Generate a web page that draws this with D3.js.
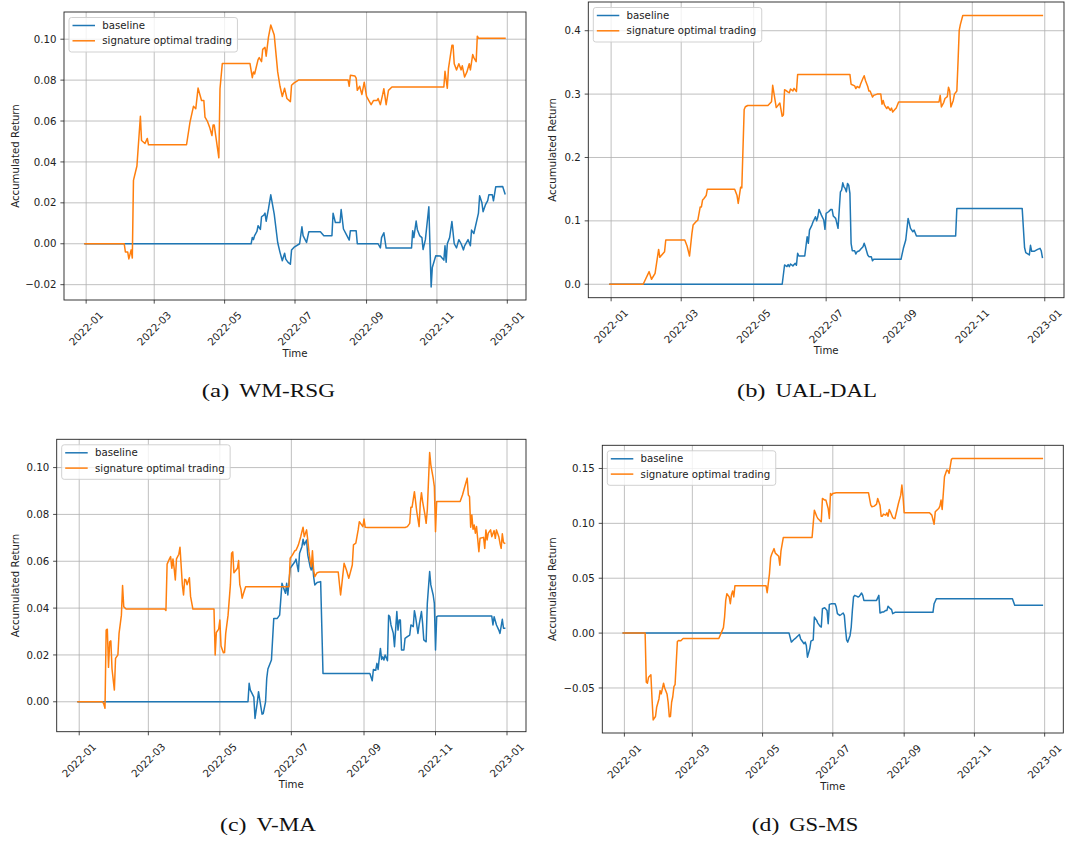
<!DOCTYPE html>
<html><head><meta charset="utf-8">
<script src="https://cdn.jsdelivr.net/npm/d3@7"></script>
<style>
body{margin:0;background:#fff;}
svg{display:block;}
</style></head><body>
<svg id="chart" width="1065" height="842"></svg>
<script>
// ---------- data ----------
const xTickLabels = ["2022-01","2022-03","2022-05","2022-07","2022-09","2022-11","2023-01"];
const seriesNames = ["baseline","signature optimal trading"];
const seriesColors = ["#1f77b4","#ff7f0e"];
const captionTags = ["(a)","(b)","(c)","(d)"];
const captionNames = ["WM-RSG","UAL-DAL","V-MA","GS-MS"];
const aYTicks = [-0.02,0,0.02,0.04,0.06,0.08,0.10];
const bYTicks = [0,0.1,0.2,0.3,0.4];
const cYTicks = [0,0.02,0.04,0.06,0.08,0.10];
const dYTicks = [-0.05,0,0.05,0.10,0.15];

const aBaseline = [["2021-12-31",0],["2022-05-24",0],["2022-05-25",0.0031],["2022-05-26",0.002],["2022-05-27",0.004],["2022-05-29",0.006],["2022-05-30",0.0088],["2022-06-01",0.007],["2022-06-02",0.0132],["2022-06-04",0.014],["2022-06-05",0.015],["2022-06-06",0.011],["2022-06-08",0.017],["2022-06-10",0.0239],["2022-06-13",0.0145],["2022-06-16",0.0006],["2022-06-18",-0.0042],["2022-06-20",-0.0083],["2022-06-22",-0.0046],["2022-06-23",-0.0075],["2022-06-25",-0.0091],["2022-06-27",-0.010],["2022-06-28",-0.0031],["2022-06-30",-0.0018],["2022-07-05",0],["2022-07-07",0.0083],["2022-07-08",0.004],["2022-07-11",0.0006],["2022-07-13",0.0059],["2022-07-23",0.0059],["2022-07-26",0.0039],["2022-08-02",0.0039],["2022-08-03",0.0149],["2022-08-05",0.0104],["2022-08-09",0.0104],["2022-08-10",0.0167],["2022-08-12",0.0072],["2022-08-15",0.004],["2022-08-17",0.0018],["2022-08-18",0.0064],["2022-08-23",0.0064],["2022-08-24",0],["2022-09-11",0],["2022-09-13",-0.002],["2022-09-14",0.003],["2022-09-16",0.0054],["2022-09-18",-0.0021],["2022-10-10",-0.0021],["2022-10-11",0.0064],["2022-10-12",0.003],["2022-10-14",0.0111],["2022-10-15",0.007],["2022-10-17",0.004],["2022-10-19",0.003],["2022-10-20",-0.0028],["2022-10-22",0.002],["2022-10-25",0.0181],["2022-10-27",-0.0211],["2022-10-28",-0.0116],["2022-10-31",-0.0059],["2022-11-04",-0.006],["2022-11-07",-0.008],["2022-11-08",-0.001],["2022-11-09",-0.009],["2022-11-10",0],["2022-11-12",0.003],["2022-11-14",0.0109],["2022-11-16",0],["2022-11-18",-0.002],["2022-11-20",0.002],["2022-11-22",0],["2022-11-24",-0.003],["2022-11-25",-0.001],["2022-11-28",0.002],["2022-11-30",-0.001],["2022-12-01",0.0067],["2022-12-03",0.005],["2022-12-07",0.015],["2022-12-08",0.0235],["2022-12-10",0.020],["2022-12-11",0.0157],["2022-12-13",0.019],["2022-12-15",0.0211],["2022-12-16",0.0239],["2022-12-19",0.0239],["2022-12-20",0.021],["2022-12-22",0.0279],["2022-12-28",0.028],["2022-12-30",0.0244]];
const aSignature = [["2021-12-31",0],["2022-02-03",0],["2022-02-04",-0.004],["2022-02-06",-0.004],["2022-02-07",-0.0074],["2022-02-09",-0.003],["2022-02-10",-0.007],["2022-02-11",0.031],["2022-02-14",0.038],["2022-02-17",0.0623],["2022-02-18",0.0505],["2022-02-21",0.049],["2022-02-23",0.0515],["2022-02-24",0.0484],["2022-03-29",0.0484],["2022-04-01",0.0595],["2022-04-04",0.0672],["2022-04-06",0.066],["2022-04-08",0.0761],["2022-04-11",0.070],["2022-04-13",0.070],["2022-04-14",0.0619],["2022-04-16",0.060],["2022-04-18",0.057],["2022-04-20",0.0529],["2022-04-21",0.058],["2022-04-22",0.058],["2022-04-25",0.046],["2022-04-26",0.042],["2022-04-27",0.0758],["2022-04-29",0.0881],["2022-05-23",0.0881],["2022-05-25",0.0812],["2022-05-26",0.084],["2022-05-27",0.083],["2022-05-30",0.090],["2022-05-31",0.091],["2022-06-02",0.089],["2022-06-03",0.095],["2022-06-05",0.096],["2022-06-06",0.0917],["2022-06-08",0.101],["2022-06-10",0.1069],["2022-06-13",0.102],["2022-06-16",0.084],["2022-06-18",0.077],["2022-06-20",0.072],["2022-06-22",0.076],["2022-06-24",0.071],["2022-06-27",0.0695],["2022-06-28",0.0775],["2022-06-30",0.0785],["2022-07-04",0.080],["2022-08-16",0.080],["2022-08-17",0.077],["2022-08-18",0.0824],["2022-08-22",0.082],["2022-08-23",0.081],["2022-08-24",0.075],["2022-08-26",0.077],["2022-08-28",0.073],["2022-08-30",0.079],["2022-09-01",0.072],["2022-09-03",0.070],["2022-09-05",0.068],["2022-09-07",0.070],["2022-09-10",0.070],["2022-09-11",0.071],["2022-09-13",0.068],["2022-09-15",0.073],["2022-09-16",0.0758],["2022-09-18",0.068],["2022-09-20",0.075],["2022-09-23",0.0766],["2022-11-07",0.0766],["2022-11-08",0.0843],["2022-11-10",0.076],["2022-11-11",0.0856],["2022-11-14",0.097],["2022-11-15",0.097],["2022-11-16",0.088],["2022-11-18",0.085],["2022-11-20",0.088],["2022-11-22",0.085],["2022-11-23",0.087],["2022-11-25",0.0815],["2022-11-27",0.084],["2022-11-29",0.088],["2022-11-30",0.085],["2022-12-02",0.0925],["2022-12-03",0.091],["2022-12-05",0.089],["2022-12-06",0.1015],["2022-12-07",0.1005],["2022-12-30",0.1005]];

const bBaseline = [["2021-12-31",0],["2022-05-25",0],["2022-05-27",0.0304],["2022-05-29",0.028],["2022-05-30",0.031],["2022-05-31",0.0278],["2022-06-01",0.032],["2022-06-03",0.029],["2022-06-05",0.033],["2022-06-06",0.030],["2022-06-07",0.0488],["2022-06-08",0.0446],["2022-06-13",0.0446],["2022-06-15",0.075],["2022-06-16",0.0646],["2022-06-17",0.0855],["2022-06-19",0.0934],["2022-06-20",0.0986],["2022-06-22",0.1065],["2022-06-23",0.1002],["2022-06-24",0.1065],["2022-06-25",0.1181],["2022-06-27",0.1091],["2022-06-29",0.1013],["2022-06-30",0.0866],["2022-07-01",0.1118],["2022-07-03",0.1144],["2022-07-05",0.1181],["2022-07-06",0.1181],["2022-07-07",0.1076],["2022-07-09",0.1039],["2022-07-10",0.096],["2022-07-11",0.0882],["2022-07-13",0.1458],["2022-07-14",0.1485],["2022-07-15",0.160],["2022-07-16",0.1537],["2022-07-17",0.1512],["2022-07-18",0.1458],["2022-07-19",0.159],["2022-07-20",0.1564],["2022-07-21",0.1433],["2022-07-22",0.0646],["2022-07-23",0.0529],["2022-07-25",0.0529],["2022-07-26",0.0477],["2022-07-27",0.0513],["2022-07-29",0.0529],["2022-07-30",0.0551],["2022-08-01",0.0592],["2022-08-02",0.0646],["2022-08-03",0.0592],["2022-08-05",0.0461],["2022-08-06",0.0435],["2022-08-08",0.0435],["2022-08-09",0.0372],["2022-08-10",0.0394],["2022-09-02",0.0394],["2022-09-04",0.0567],["2022-09-06",0.0698],["2022-09-08",0.1039],["2022-09-09",0.096],["2022-09-10",0.0882],["2022-09-12",0.0829],["2022-09-13",0.0855],["2022-09-15",0.0761],["2022-10-18",0.0761],["2022-10-19",0.1197],["2022-12-13",0.1197],["2022-12-15",0.058],["2022-12-16",0.050],["2022-12-18",0.0477],["2022-12-19",0.0461],["2022-12-20",0.0614],["2022-12-21",0.052],["2022-12-23",0.052],["2022-12-26",0.0551],["2022-12-28",0.0567],["2022-12-29",0.0529],["2022-12-30",0.0425]];
const bSignature = [["2021-12-31",0],["2022-01-28",0],["2022-02-02",0.0199],["2022-02-04",0.0079],["2022-02-07",0.0173],["2022-02-10",0.055],["2022-02-11",0.0425],["2022-02-13",0.047],["2022-02-15",0.0514],["2022-02-16",0.0698],["2022-03-04",0.0698],["2022-03-06",0.060],["2022-03-08",0.0446],["2022-03-10",0.080],["2022-03-11",0.0934],["2022-03-14",0.0997],["2022-03-15",0.101],["2022-03-17",0.122],["2022-03-18",0.122],["2022-03-19",0.133],["2022-03-20",0.135],["2022-03-22",0.140],["2022-03-23",0.150],["2022-04-15",0.150],["2022-04-17",0.140],["2022-04-18",0.1276],["2022-04-20",0.153],["2022-04-21",0.152],["2022-04-23",0.2756],["2022-04-24",0.280],["2022-04-26",0.282],["2022-05-13",0.282],["2022-05-16",0.288],["2022-05-17",0.3139],["2022-05-20",0.2787],["2022-05-21",0.281],["2022-05-23",0.286],["2022-05-25",0.265],["2022-05-26",0.267],["2022-05-27",0.307],["2022-05-28",0.306],["2022-05-30",0.303],["2022-05-31",0.302],["2022-06-01",0.308],["2022-06-03",0.305],["2022-06-04",0.309],["2022-06-06",0.304],["2022-06-07",0.331],["2022-07-21",0.331],["2022-07-22",0.3155],["2022-07-25",0.313],["2022-07-26",0.3087],["2022-07-27",0.312],["2022-07-29",0.310],["2022-07-30",0.316],["2022-08-01",0.325],["2022-08-02",0.329],["2022-08-03",0.322],["2022-08-05",0.312],["2022-08-06",0.305],["2022-08-07",0.305],["2022-08-09",0.2954],["2022-08-10",0.298],["2022-08-13",0.300],["2022-08-16",0.300],["2022-08-17",0.284],["2022-08-18",0.290],["2022-08-19",0.283],["2022-08-21",0.2772],["2022-08-22",0.280],["2022-08-24",0.2745],["2022-08-25",0.278],["2022-08-26",0.2718],["2022-08-28",0.276],["2022-08-29",0.278],["2022-08-31",0.2876],["2022-10-04",0.2876],["2022-10-05",0.298],["2022-10-06",0.2797],["2022-10-08",0.287],["2022-10-09",0.293],["2022-10-11",0.296],["2022-10-12",0.311],["2022-10-13",0.305],["2022-10-14",0.2797],["2022-10-16",0.290],["2022-10-17",0.300],["2022-10-19",0.305],["2022-10-20",0.3506],["2022-10-21",0.4005],["2022-10-22",0.410],["2022-10-24",0.4241],["2022-12-30",0.4241]];

const cBaseline = [["2021-12-31",0],["2022-05-25",0],["2022-05-26",0.0079],["2022-05-27",0.005],["2022-05-28",0.004],["2022-05-30",0.002],["2022-05-31",-0.0071],["2022-06-02",0],["2022-06-03",0.0043],["2022-06-04",0.001],["2022-06-06",-0.0053],["2022-06-07",-0.005],["2022-06-09",0],["2022-06-10",0.010],["2022-06-11",0.014],["2022-06-14",0.0178],["2022-06-16",0.0356],["2022-06-19",0.0356],["2022-06-21",0.037],["2022-06-23",0.0506],["2022-06-24",0.0491],["2022-06-26",0.0463],["2022-06-27",0.0506],["2022-06-28",0.0456],["2022-06-29",0.0513],["2022-06-30",0.057],["2022-07-02",0.0584],["2022-07-04",0.0598],["2022-07-05",0.0609],["2022-07-07",0.0556],["2022-07-08",0.0634],["2022-07-10",0.0662],["2022-07-11",0.0694],["2022-07-12",0.067],["2022-07-14",0.0691],["2022-07-15",0.0627],["2022-07-17",0.0577],["2022-07-18",0.0563],["2022-07-19",0.0598],["2022-07-20",0.0534],["2022-07-21",0.0499],["2022-07-23",0.0509],["2022-07-26",0.0513],["2022-07-28",0.0121],["2022-09-06",0.0121],["2022-09-08",0.009],["2022-09-09",0.0138],["2022-09-11",0.0135],["2022-09-12",0.0164],["2022-09-13",0.0138],["2022-09-14",0.0185],["2022-09-15",0.0228],["2022-09-16",0.0181],["2022-09-17",0.0192],["2022-09-18",0.0178],["2022-09-19",0.020],["2022-09-21",0.0175],["2022-09-22",0.037],["2022-09-23",0.0363],["2022-09-24",0.0328],["2022-09-26",0.0292],["2022-09-27",0.0235],["2022-09-29",0.0385],["2022-09-30",0.0306],["2022-10-01",0.0349],["2022-10-02",0.0349],["2022-10-03",0.0221],["2022-10-05",0.0221],["2022-10-06",0.0271],["2022-10-08",0.0278],["2022-10-10",0.0285],["2022-10-11",0.0328],["2022-10-13",0.0321],["2022-10-14",0.0389],["2022-10-15",0.0363],["2022-10-17",0.0292],["2022-10-18",0.0328],["2022-10-20",0.0385],["2022-10-21",0.0335],["2022-10-22",0.0264],["2022-10-24",0.0256],["2022-10-25",0.042],["2022-10-27",0.0556],["2022-10-28",0.0499],["2022-10-30",0.0456],["2022-10-31",0.042],["2022-11-01",0.0221],["2022-11-02",0.0363],["2022-11-03",0.0366],["2022-12-19",0.0366],["2022-12-20",0.0328],["2022-12-21",0.0363],["2022-12-23",0.0328],["2022-12-25",0.0306],["2022-12-26",0.0292],["2022-12-28",0.0352],["2022-12-29",0.0314],["2022-12-30",0.0314]];
const cSignature = [["2021-12-31",0],["2022-01-21",0],["2022-01-22",-0.001],["2022-01-23",-0.0028],["2022-01-24",0.0306],["2022-01-25",0.031],["2022-01-26",0.0147],["2022-01-27",0.0256],["2022-01-28",0.026],["2022-01-29",0.014],["2022-01-31",0.005],["2022-02-01",0.0185],["2022-02-03",0.020],["2022-02-04",0.0292],["2022-02-06",0.037],["2022-02-07",0.0496],["2022-02-08",0.0406],["2022-02-10",0.0396],["2022-03-15",0.0396],["2022-03-16",0.039],["2022-03-17",0.0588],["2022-03-19",0.061],["2022-03-20",0.062],["2022-03-21",0.057],["2022-03-22",0.061],["2022-03-23",0.057],["2022-03-24",0.052],["2022-03-25",0.061],["2022-03-27",0.063],["2022-03-28",0.066],["2022-03-30",0.0499],["2022-03-31",0.0456],["2022-04-01",0.0523],["2022-04-02",0.052],["2022-04-03",0.050],["2022-04-05",0.053],["2022-04-06",0.045],["2022-04-08",0.0396],["2022-04-26",0.0396],["2022-04-27",0.020],["2022-04-28",0.0296],["2022-04-30",0.031],["2022-05-01",0.0349],["2022-05-02",0.0238],["2022-05-04",0.0209],["2022-05-05",0.021],["2022-05-06",0.0292],["2022-05-08",0.037],["2022-05-10",0.050],["2022-05-11",0.0634],["2022-05-12",0.064],["2022-05-13",0.0551],["2022-05-16",0.057],["2022-05-17",0.0603],["2022-05-18",0.050],["2022-05-19",0.048],["2022-05-20",0.0442],["2022-05-21",0.046],["2022-05-23",0.0491],["2022-06-29",0.0491],["2022-06-30",0.0613],["2022-07-02",0.0627],["2022-07-04",0.0645],["2022-07-05",0.0647],["2022-07-07",0.067],["2022-07-09",0.0705],["2022-07-10",0.0726],["2022-07-11",0.0745],["2022-07-12",0.0705],["2022-07-14",0.0734],["2022-07-15",0.0691],["2022-07-16",0.0641],["2022-07-17",0.0603],["2022-07-18",0.0577],["2022-07-19",0.0645],["2022-07-20",0.0563],["2022-07-21",0.0534],["2022-07-23",0.0551],["2022-07-25",0.0554],["2022-08-10",0.0554],["2022-08-12",0.0456],["2022-08-13",0.0499],["2022-08-15",0.0591],["2022-08-17",0.0563],["2022-08-19",0.0527],["2022-08-22",0.0584],["2022-08-23",0.067],["2022-08-25",0.0677],["2022-08-27",0.0734],["2022-08-28",0.0769],["2022-08-29",0.0762],["2022-08-31",0.0748],["2022-09-01",0.078],["2022-09-02",0.0745],["2022-09-04",0.0744],["2022-10-06",0.0744],["2022-10-08",0.0748],["2022-10-10",0.0762],["2022-10-11",0.0831],["2022-10-12",0.0831],["2022-10-14",0.0897],["2022-10-15",0.0855],["2022-10-16",0.0812],["2022-10-18",0.0748],["2022-10-19",0.0848],["2022-10-20",0.0893],["2022-10-21",0.0855],["2022-10-23",0.0798],["2022-10-24",0.0762],["2022-10-25",0.0819],["2022-10-27",0.1064],["2022-10-28",0.1012],["2022-10-30",0.0955],["2022-10-31",0.0919],["2022-11-01",0.0726],["2022-11-02",0.0855],["2022-11-22",0.0855],["2022-11-24",0.0883],["2022-11-26",0.0919],["2022-11-28",0.0955],["2022-11-29",0.0883],["2022-11-30",0.0876],["2022-12-01",0.0745],["2022-12-02",0.0798],["2022-12-03",0.0737],["2022-12-04",0.0755],["2022-12-05",0.072],["2022-12-06",0.0748],["2022-12-08",0.0641],["2022-12-09",0.0698],["2022-12-12",0.0702],["2022-12-13",0.0655],["2022-12-14",0.0734],["2022-12-15",0.0691],["2022-12-16",0.072],["2022-12-18",0.0734],["2022-12-19",0.0705],["2022-12-21",0.0731],["2022-12-22",0.0698],["2022-12-23",0.0734],["2022-12-25",0.0705],["2022-12-26",0.0677],["2022-12-27",0.0655],["2022-12-28",0.0717],["2022-12-29",0.068],["2022-12-30",0.0677]];

const dBaseline = [["2021-12-31",0],["2022-05-24",0],["2022-05-26",-0.0082],["2022-05-28",-0.0061],["2022-05-30",-0.0043],["2022-06-02",-0.0012],["2022-06-03",-0.0052],["2022-06-04",-0.0067],["2022-06-06",-0.0097],["2022-06-07",-0.0082],["2022-06-08",-0.0113],["2022-06-09",-0.0219],["2022-06-11",-0.0143],["2022-06-12",-0.0073],["2022-06-14",-0.0061],["2022-06-15",0.0146],["2022-06-17",0.0116],["2022-06-18",0.0091],["2022-06-20",0.0061],["2022-06-21",0.0055],["2022-06-22",0.0222],["2022-06-24",0.0231],["2022-06-26",0.0207],["2022-06-27",0.0085],["2022-06-28",0.0262],["2022-06-30",0.0268],["2022-07-03",0.0268],["2022-07-04",0.0237],["2022-07-05",0.0177],["2022-07-07",0.0161],["2022-07-08",0.0167],["2022-07-10",0.0183],["2022-07-11",0.0161],["2022-07-12",0.004],["2022-07-13",-0.0061],["2022-07-14",-0.0082],["2022-07-16",-0.0021],["2022-07-17",0.0055],["2022-07-18",0.0207],["2022-07-19",0.0329],["2022-07-20",0.0344],["2022-07-22",0.0335],["2022-07-23",0.0329],["2022-07-24",0.0335],["2022-07-26",0.0365],["2022-07-27",0.0344],["2022-07-28",0.0298],["2022-08-08",0.0298],["2022-08-10",0.0344],["2022-08-11",0.0183],["2022-08-13",0.0192],["2022-08-14",0.0192],["2022-08-16",0.0207],["2022-08-17",0.0207],["2022-08-18",0.0244],["2022-08-20",0.0222],["2022-08-21",0.0216],["2022-08-22",0.0177],["2022-08-24",0.0189],["2022-09-26",0.0189],["2022-09-27",0.0268],["2022-09-29",0.0314],["2022-12-04",0.0314],["2022-12-06",0.0253],["2022-12-30",0.0253]];
const dSignature = [["2021-12-31",0],["2022-01-19",0],["2022-01-20",-0.0447],["2022-01-21",-0.0456],["2022-01-22",-0.0402],["2022-01-24",-0.038],["2022-01-25",-0.060],["2022-01-26",-0.0791],["2022-01-28",-0.076],["2022-01-29",-0.0676],["2022-01-31",-0.060],["2022-02-01",-0.0524],["2022-02-02",-0.0554],["2022-02-04",-0.0457],["2022-02-05",-0.050],["2022-02-07",-0.0554],["2022-02-08",-0.063],["2022-02-09",-0.0761],["2022-02-10",-0.076],["2022-02-11",-0.063],["2022-02-12",-0.058],["2022-02-13",-0.0487],["2022-02-14",-0.047],["2022-02-16",-0.0076],["2022-02-17",-0.0067],["2022-02-19",-0.007],["2022-02-21",-0.0049],["2022-03-24",-0.0049],["2022-03-26",0],["2022-03-28",0.005],["2022-03-29",0.0146],["2022-03-30",0.0298],["2022-03-31",0.0359],["2022-04-02",0.033],["2022-04-03",0.0268],["2022-04-04",0.035],["2022-04-05",0.0384],["2022-04-06",0.033],["2022-04-07",0.0432],["2022-05-04",0.0432],["2022-05-05",0.0368],["2022-05-07",0.0542],["2022-05-08",0.0688],["2022-05-09",0.072],["2022-05-11",0.077],["2022-05-12",0.073],["2022-05-13",0.072],["2022-05-15",0.070],["2022-05-16",0.0618],["2022-05-17",0.075],["2022-05-19",0.0871],["2022-06-13",0.0871],["2022-06-14",0.0998],["2022-06-15",0.112],["2022-06-17",0.1065],["2022-06-18",0.1044],["2022-06-20",0.1023],["2022-06-21",0.1014],["2022-06-22",0.1227],["2022-06-24",0.1212],["2022-06-25",0.1212],["2022-06-27",0.1135],["2022-06-28",0.1044],["2022-06-29",0.1272],["2022-06-30",0.1257],["2022-07-01",0.1272],["2022-07-04",0.1279],["2022-08-01",0.1279],["2022-08-03",0.1166],["2022-08-04",0.1151],["2022-08-06",0.1157],["2022-08-08",0.1175],["2022-08-09",0.1227],["2022-08-11",0.1166],["2022-08-12",0.1065],["2022-08-13",0.1065],["2022-08-14",0.1084],["2022-08-16",0.1075],["2022-08-17",0.1096],["2022-08-18",0.1065],["2022-08-19",0.1126],["2022-08-20",0.1105],["2022-08-22",0.1053],["2022-08-23",0.1044],["2022-08-24",0.1044],["2022-08-26",0.1135],["2022-08-27",0.1181],["2022-08-29",0.1257],["2022-08-30",0.1349],["2022-08-31",0.1242],["2022-09-01",0.1096],["2022-09-23",0.1096],["2022-09-25",0.1075],["2022-09-27",0.0992],["2022-09-28",0.1105],["2022-09-30",0.1126],["2022-10-01",0.1135],["2022-10-02",0.1157],["2022-10-03",0.1212],["2022-10-04",0.1126],["2022-10-06",0.1425],["2022-10-08",0.1486],["2022-10-09",0.148],["2022-10-10",0.1455],["2022-10-12",0.1583],["2022-10-13",0.1592],["2022-12-30",0.1592]];

// ---------- layout ----------
const panels = [
  {tag:captionTags[0], name:captionNames[0], series:[aBaseline,aSignature], yTicks:aYTicks, fmt:".2f", L:64, T:12, R:526, B:300, ylabX:15, capL:201.7, tagW:27.6, nameL:239.3, nameW:95.7, capY:396.7},
  {tag:captionTags[1], name:captionNames[1], series:[bBaseline,bSignature], yTicks:bYTicks, fmt:".1f", L:588.3, T:2, R:1064, B:297.7, ylabX:552.7, capL:737, tagW:28.5, nameL:775.5, nameW:101.5, capY:396.7},
  {tag:captionTags[2], name:captionNames[2], series:[cBaseline,cSignature], yTicks:cYTicks, fmt:".2f", L:56.7, T:439.3, R:526, B:731.7, ylabX:15, capL:220, tagW:26.5, nameL:256.5, nameW:59.5, capY:830.7},
  {tag:captionTags[3], name:captionNames[3], series:[dBaseline,dSignature], yTicks:dYTicks, fmt:".2f", L:602.3, T:445.3, R:1063.3, B:733, ylabX:552.7, capL:751.7, tagW:27.6, nameL:789.3, nameW:69, capY:830.7}
];

const parse = d3.timeParse("%Y-%m-%d");
const parseMonth = d3.timeParse("%Y-%m");
const FONT = "'DejaVu Sans', sans-serif";
const SERIF = "'Liberation Serif', 'DejaVu Serif', serif";
const svg = d3.select("#chart");
svg.append("rect").attr("width",1065).attr("height",842).attr("fill","#fff");

panels.forEach((p, pi) => {
  const data = p.series.map(s => s.map(([d,v]) => ({date: parse(d), v})));
  const all = data.flat();
  const [x0, x1] = d3.extent(all, d => d.date);
  const xpad = (x1 - x0) * 0.05;
  const [y0, y1] = d3.extent(all, d => d.v);
  const ypad = (y1 - y0) * 0.05;
  const W = p.R - p.L, H = p.B - p.T;
  const x = d3.scaleTime().domain([new Date(+x0 - xpad), new Date(+x1 + xpad)]).range([0, W]);
  const y = d3.scaleLinear().domain([y0 - ypad, y1 + ypad]).range([H, 0]);

  const g = svg.append("g").attr("transform", `translate(${p.L},${p.T})`);
  const clipId = "clip" + pi;
  g.append("clipPath").attr("id", clipId).append("rect").attr("width", W).attr("height", H);

  const xTicks = xTickLabels.map(s => parseMonth(s));
  // grid
  const grid = g.append("g").attr("stroke", "#b0b0b0").attr("stroke-width", 0.8);
  xTicks.forEach(t => grid.append("line").attr("x1", x(t)).attr("x2", x(t)).attr("y1", 0).attr("y2", H));
  p.yTicks.forEach(t => grid.append("line").attr("y1", y(t)).attr("y2", y(t)).attr("x1", 0).attr("x2", W));

  // lines
  const line = d3.line().x(d => x(d.date)).y(d => y(d.v));
  const lg = g.append("g").attr("clip-path", `url(#${clipId})`);
  data.forEach((s, i) => {
    lg.append("path").datum(s).attr("d", line).attr("fill", "none")
      .attr("stroke", seriesColors[i]).attr("stroke-width", 1.5)
      .attr("stroke-linejoin", "round").attr("stroke-linecap", "square");
  });

  // frame
  g.append("rect").attr("width", W).attr("height", H).attr("fill", "none")
    .attr("stroke", "#222").attr("stroke-width", 0.9);

  // ticks and labels
  const tk = g.append("g").attr("stroke", "#222").attr("stroke-width", 0.8);
  const fmt = d3.format(p.fmt);
  p.yTicks.forEach(t => {
    tk.append("line").attr("x1", -3.6).attr("x2", 0).attr("y1", y(t)).attr("y2", y(t));
    g.append("text").attr("x", -7.5).attr("y", y(t)).attr("dy", "0.35em")
      .attr("text-anchor", "end").attr("font-family", FONT).attr("font-size", 10.2)
      .attr("fill", "#222").text(fmt(t));
  });
  xTicks.forEach((t, i) => {
    tk.append("line").attr("x1", x(t)).attr("x2", x(t)).attr("y1", H).attr("y2", H + 3.6);
    g.append("text").attr("transform", `translate(${x(t)},${H + 28.5}) rotate(-45)`)
      .attr("text-anchor", "middle").attr("dy", "0.35em")
      .attr("font-family", FONT).attr("font-size", 10.3).attr("fill", "#222")
      .text(xTickLabels[i]);
  });

  // axis labels
  g.append("text").attr("x", W / 2).attr("y", H + 53).attr("dy", "0.35em")
    .attr("text-anchor", "middle").attr("font-family", FONT).attr("font-size", 10.2)
    .attr("fill", "#222").text("Time");
  svg.append("text").attr("transform", `translate(${p.ylabX},${p.T + H / 2}) rotate(-90)`)
    .attr("text-anchor", "middle").attr("dy", "0.35em").attr("font-family", FONT)
    .attr("font-size", 10.2).attr("fill", "#222").text("Accumulated Return");

  // legend
  const leg = g.append("g").attr("transform", "translate(5,5.5)");
  const box = leg.append("rect").attr("rx", 2.5).attr("fill", "#fff").attr("fill-opacity", 0.8)
    .attr("stroke", "#cccccc").attr("stroke-width", 0.9).attr("height", 34.5);
  let maxW = 0;
  seriesNames.forEach((n, i) => {
    const yy = 8 + i * 15.3;
    leg.append("line").attr("x1", 3.5).attr("x2", 26).attr("y1", yy).attr("y2", yy)
      .attr("stroke", seriesColors[i]).attr("stroke-width", 1.5);
    const t = leg.append("text").attr("x", 33.3).attr("y", yy).attr("dy", "0.35em")
      .attr("font-family", FONT).attr("font-size", 10.2).attr("fill", "#222").text(n);
    maxW = Math.max(maxW, t.node().getComputedTextLength());
  });
  box.attr("width", 33.3 + maxW + 5.5);

  // caption: "(x)" tag and name, widened to the reference's Computer Modern widths
  const cap = svg.append("g").attr("font-family", SERIF).attr("font-size", 19).attr("fill", "#111");
  cap.append("text").attr("x", p.capL).attr("y", p.capY)
    .attr("textLength", p.tagW).attr("lengthAdjust", "spacingAndGlyphs").text(p.tag);
  cap.append("text").attr("x", p.nameL).attr("y", p.capY)
    .attr("textLength", p.nameW).attr("lengthAdjust", "spacingAndGlyphs").text(p.name);
});
</script>
</body></html>
